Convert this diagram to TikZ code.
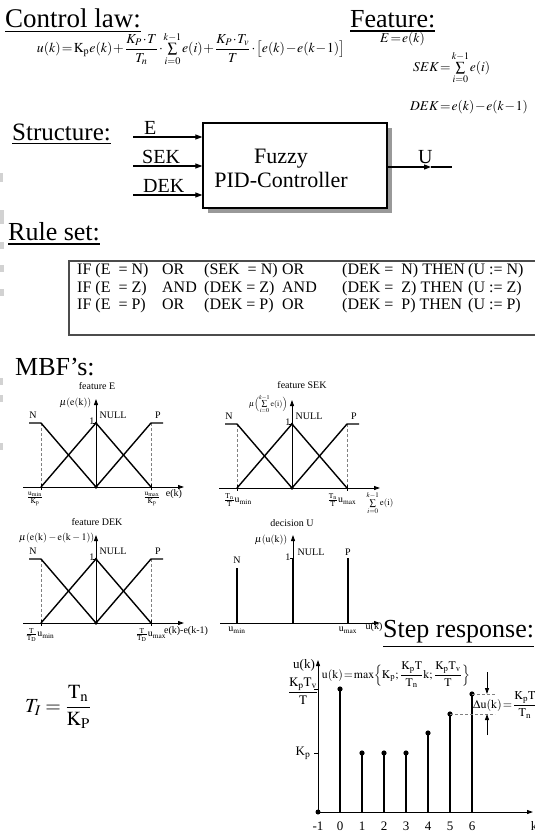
\documentclass[tikz,border=0pt]{standalone}
\usepackage{amsmath}
\usepackage{mathptmx}
\usepackage{fontspec}
\setmainfont{Liberation Serif}
\usepackage{graphicx}
\usetikzlibrary{arrows.meta,shadows}
\newcommand\tightm{\thickmuskip=1.5mu\medmuskip=1mu\thinmuskip=1mu}
\newcommand\rline[6]{\makebox[85pt][l]{#1}\makebox[42pt][l]{#2}\makebox[78pt][l]{#3}\makebox[60pt][l]{#4}\makebox[126pt][l]{#5}#6}
\newcommand\mfplot[1]{%
  \draw[axarr] (-73,0) -- (88,0);
  \draw[axarr] (0,0) -- (0,-88);
  \draw[dsh] (-55,-64) -- (-55,0);
  \draw[dsh] (55,-64) -- (55,0);
  \draw (-55,-3) -- (-55,3);
  \draw (55,-3) -- (55,3);
  \draw[mfl] (-67,-64) -- (-55,-64) -- (0,0);
  \draw[mfl] (-55,0) -- (0,-64) -- (55,0);
  \draw[mfl] (0,0) -- (55,-64) -- (67,-64);
  \fill (0,0) circle (1.8pt);
  \fill (0,-64) circle (1.3pt);
  \draw (-3,-64) -- (0,-64);
  \node[lb] (#1N) at (-63,-72) {N};
  \node[lb, anchor=west] (#1Z) at (3,-72) {NULL};
  \node[lb] (#1P) at (62,-72) {P};
  \node[lb, anchor=east] (#1one) at (-1,-66) {1};
}
\begin{document}
\begin{tikzpicture}[x=1pt,y=-1pt,
  hd/.style={font=\fontsize{26}{28}\selectfont, inner sep=0pt, anchor=base west},
  inlab/.style={font=\fontsize{20}{22}\selectfont, inner sep=0pt, anchor=base west},
  arr/.style={line width=1.2pt, -{Triangle[length=7pt,width=5pt]}},
  axarr/.style={line width=0.9pt, -{Triangle[length=6pt,width=4pt]}},
  mfl/.style={line width=1.4pt},
  dsh/.style={dash pattern=on 3pt off 2pt, gray, line width=0.7pt},
  lb/.style={font=\fontsize{10}{11}\selectfont, inner sep=0.5pt},
  stem/.style={line width=1.3pt},
  art/.style={fill=gray!35, draw=none},
  mid/.style={font=\fontsize{13}{14}\selectfont, inner sep=0.5pt},
  feat/.style={anchor=west, inner sep=0, font=\fontsize{13.5}{14}\selectfont},
]
\useasboundingbox (0,0) rectangle (535,833);
\fill[white] (0,0) rectangle (535,833);

% scan marks on the left edge
\fill[art] (0,210) rectangle (4,224);
\fill[art] (0,242) rectangle (4,249);
\fill[art] (0,265) rectangle (4,272);
\fill[art] (0,289) rectangle (4,296);
\fill[art] (0,173) rectangle (3,182);
\fill[art] (0,378) rectangle (3,385);
\fill[art] (0,395) rectangle (3,402);
\fill[art] (0,443) rectangle (3,450);

% ---------- control law ----------
\node[hd, font=\fontsize{27}{28}\selectfont] (cl) at (5,27) {\underline{Control law:}};
\node[hd] (ft) at (350,27) {\underline{Feature:}};
\node[inner sep=0] (law) at (191,49) {\resizebox{308pt}{!}{$\tightm u(k)=\mathrm{K_p}e(k)+\dfrac{K_P\cdot T}{T_n}\cdot\sum\limits_{i=0}^{k-1}e(i)+\dfrac{K_P\cdot T_v}{T}\cdot\bigl[e(k)-e(k-1)\bigr]$}};
\node[feat] (fE) at (380,39) {$\tightm E=e(k)$};
\node[feat] (fS) at (413,68) {$\tightm SEK=\sum\limits_{i=0}^{k-1}e(i)$};
\node[feat] (fD) at (410,107) {$\tightm DEK=e(k)-e(k-1)$};

% ---------- structure ----------
\node[hd, font=\fontsize{25}{26}\selectfont] (st) at (12,140) {\underline{Structure:}};
\node[draw, line width=1.3pt, fill=white, minimum width=184pt, minimum height=85pt, inner sep=0,
      drop shadow={shadow xshift=5pt, shadow yshift=-5pt, fill=gray!80, opacity=1}] (fz) at (295,165.5) {};
\node[font=\fontsize{22}{24}\selectfont, align=center, inner sep=0] (fzt) at (281,168) {Fuzzy\\PID-Controller};
\coordinate (iE) at (133,137);
\coordinate (iS) at (133,166);
\coordinate (iD) at (133,195);
\draw[arr] (iE) -- (iE -| fz.west);
\draw[arr] (iS) -- (iS -| fz.west);
\draw[arr] (iD) -- (iD -| fz.west);
\node[inlab] (lE) at (144,134) {E};
\node[inlab] (lS) at (142,163) {SEK};
\node[inlab] (lD) at (143,192) {DEK};
\coordinate (uo) at (452,167);
\coordinate (um) at (431,167);
\draw[arr] (fz.east |- uo) -- (um);
\draw[line width=1.2pt] (um) -- (uo);
\node[inlab] (lU) at (418,163) {U};

% ---------- rule set ----------
\node[hd] (rs) at (8,240) {\underline{Rule set:}};
\node[draw=gray!60!black, line width=1.8pt, anchor=north west, minimum width=480pt, minimum height=74pt, inner sep=0] (rb) at (68,260) {};
\node[anchor=north west, inner sep=0, align=left, font=\fontsize{16}{17.5}\selectfont] (rt) at (77,263.5) {%
\rline{IF (E\ \ = N)}{OR}{(SEK\ \ = N)}{OR}{(DEK =\ \ N) THEN}{(U := N)}\\
\rline{IF (E\ \ = Z)}{AND}{(DEK =\ Z)}{AND}{(DEK =\ \ Z) THEN}{(U := Z)}\\
\rline{IF (E\ \ = P)}{OR}{(DEK =\ P)}{OR}{(DEK =\ \ P) THEN}{(U := P)}};

% ---------- MBF's ----------
\node[hd] (mbf) at (15,375) {MBF's:};

\begin{scope}[shift={(96,487)}]
\mfplot{e}
\node[lb] (eT) at (1,-101) {feature E};
\node[lb, anchor=east] (eMu) at (-4,-84) {$\mu(\mathrm{e(k)})$};
\node[lb] (eL) at (-61,12) {$\frac{\mathrm{u_{min}}}{\mathrm{K_p}}$};
\node[lb] (eR) at (56,12) {$\frac{\mathrm{u_{max}}}{\mathrm{K_p}}$};
\node[lb] (eX) at (78,7) {e(k)};
\end{scope}

\begin{scope}[shift={(292,488)}]
\mfplot{s}
\node[lb] (sT) at (10,-103) {feature SEK};
\node[lb, anchor=east, font=\fontsize{8}{9}\selectfont] (sMu) at (-4,-84) {$\mu\Bigl(\sum\limits_{i=0}^{k-1}\mathrm{e(i)}\Bigr)$};
\node[lb] (sL) at (-54,12) {$\frac{\mathrm{T_n}}{\mathrm{T}}\mathrm{u_{min}}$};
\node[lb] (sR) at (50,12) {$\frac{\mathrm{T_n}}{\mathrm{T}}\mathrm{u_{max}}$};
\node[lb, anchor=west, font=\fontsize{9}{10}\selectfont] (sX) at (74,15) {$\sum\limits_{i=0}^{k-1}\mathrm{e(i)}$};
\end{scope}

\begin{scope}[shift={(96,623)}]
\mfplot{d}
\node[lb] (dT) at (1,-101) {feature DEK};
\node[lb, anchor=east] (dMu) at (-1,-85) {$\mu(\mathrm{e(k)-e(k-1)})$};
\node[lb] (dL) at (-56,12) {$\frac{\mathrm{T}}{\mathrm{T_D}}\mathrm{u_{min}}$};
\node[lb] (dR) at (55,12) {$\frac{\mathrm{T}}{\mathrm{T_D}}\mathrm{u_{max}}$};
\node[lb] (dX) at (90,8) {e(k)-e(k-1)};
\end{scope}

\begin{scope}[shift={(293,623)}]
\draw[axarr] (-73,0) -- (87,0);
\draw[axarr] (0,0) -- (0,-88);
\draw[mfl] (0,0) -- (0,-65);
\draw[mfl] (-56,0) -- (-56,-55);
\draw[mfl] (55,0) -- (55,-65);
\draw (-3,-65) -- (0,-65);
\node[lb] (uT) at (-1,-100) {decision U};
\node[lb, anchor=east] (uMu) at (-5,-83) {$\mu(\mathrm{u(k)})$};
\node[lb] (uN) at (-56,-63) {N};
\node[lb, anchor=west] (uZ) at (4,-71) {NULL};
\node[lb] (uP) at (55,-71) {P};
\node[lb, anchor=east] (uone) at (-2,-66) {1};
\node[lb] (uL) at (-56,7) {u$_\mathrm{min}$};
\node[lb] (uR) at (55,7) {u$_\mathrm{max}$};
\node[lb] (uX) at (81,4) {u(k)};
\end{scope}

% ---------- step response ----------
\node[hd] (sr) at (383,637) {\underline{Step response:}};
\coordinate (O) at (318,812);
\draw[axarr] (O) -- (318,660);
\draw[axarr] (O) -- (533,812);
\fill (O) circle (2.5pt);
\foreach \k/\h in {0/689,1/753,2/753,3/753,4/733,5/714,6/694} {
  \draw[stem] ({340+22*\k},812) -- ({340+22*\k},\h);
  \fill ({340+22*\k},\h) circle (2.6pt);
}
\draw (314,689) -- (318,689);
\draw (314,753) -- (318,753);
\foreach \k in {-1,0,1,2,3,4,5,6} {
  \node[mid] (t\k) at ({340+22*\k},826) {\k};
}
\node[mid] (tk) at (534,826) {k};
\node[mid] (yuk) at (304,665) {u(k)};
\node[mid] (ykv) at (303,691) {$\dfrac{\mathrm{K_pT_v}}{\mathrm{T}}$};
\node[mid] (ykp) at (303,753) {K$_\mathrm{p}$};
\node[inner sep=0] (umax) at (396,675) {\resizebox{148pt}{!}{$\tightm\mathrm{u(k)=max}\Bigl\{\mathrm{K_p};\,\dfrac{\mathrm{K_pT}}{\mathrm{T_n}}\mathrm{k};\,\dfrac{\mathrm{K_pT_v}}{\mathrm{T}}\Bigr\}$}};
\coordinate (d6) at (472,694);
\coordinate (d5) at (450,714);
\coordinate (d6e) at (495,694);
\coordinate (d5e) at (495,714);
\draw[dsh] (d6) -- (d6e);
\draw[dsh] (d5) -- (d5e);
\coordinate (a1) at (487,672);
\coordinate (a2) at (487,735);
\draw[axarr] (a1) -- (a1 |- d6);
\draw[axarr] (a2) -- (a2 |- d5);
\node[anchor=west, inner sep=0, font=\fontsize{12}{13}\selectfont] (du) at (473,705) {$\tightm\Delta\mathrm{u(k)}=\dfrac{\mathrm{K_pT}}{\mathrm{T_n}}$};

% ---------- T_I ----------
\node[anchor=west, inner sep=0, font=\fontsize{20}{22}\selectfont] (ti) at (25,707) {$T_I=\dfrac{\mathrm{T_n}}{\mathrm{K_P}}$};
\end{tikzpicture}
\end{document}
